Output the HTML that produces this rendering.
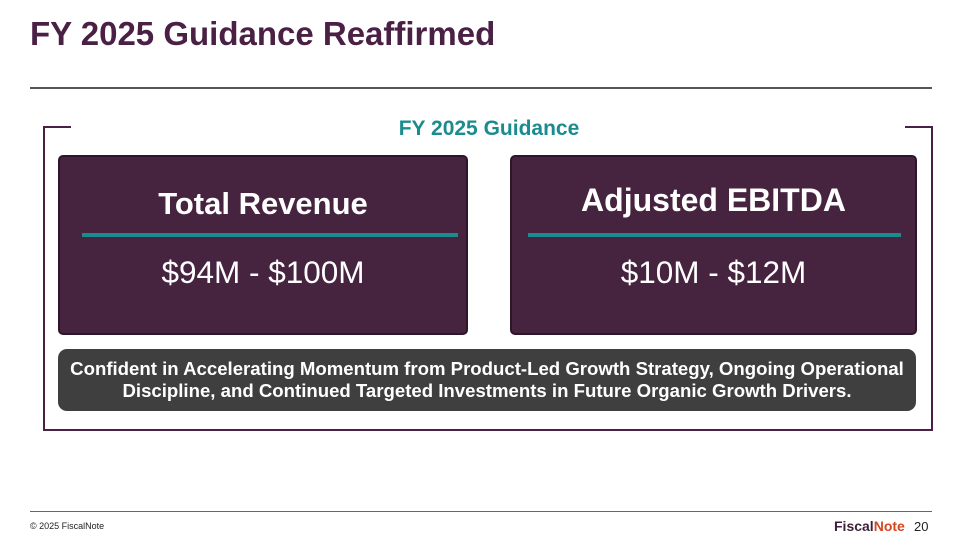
<!DOCTYPE html>
<html><head><style>
body{margin:0;width:960px;height:540px;background:#fff;position:relative;overflow:hidden;font-family:"Liberation Sans",Arial,sans-serif}
.a{position:absolute}
.box{position:absolute;background:#46233f;border:2px solid #2e1529;border-radius:5px;box-sizing:border-box;color:#fff;text-align:center}
</style></head><body>
<div class="a" style="left:30px;top:14px;font-size:33px;line-height:40px;font-weight:bold;color:#4a2145">FY 2025 Guidance Reaffirmed</div>
<div class="a" style="left:30px;top:87px;width:902px;height:2px;background:#555"></div>
<div class="a" style="left:43px;top:126px;width:2px;height:305px;background:#4a2145"></div>
<div class="a" style="left:43px;top:126px;width:28px;height:2px;background:#4a2145"></div>
<div class="a" style="left:931px;top:126px;width:2px;height:305px;background:#4a2145"></div>
<div class="a" style="left:905px;top:126px;width:28px;height:2px;background:#4a2145"></div>
<div class="a" style="left:43px;top:429px;width:890px;height:2px;background:#4a2145"></div>
<div class="a" style="left:289px;top:116px;width:400px;text-align:center;font-size:21px;line-height:26px;font-weight:bold;color:#1a8c8f">FY 2025 Guidance</div>
<div class="box" style="left:58px;top:155px;width:410px;height:180px">
<div class="a" style="left:0;top:29px;width:100%;font-size:31px;line-height:36px;font-weight:bold">Total Revenue</div>
<div class="a" style="left:22px;top:76px;width:376px;height:4px;background:#1a8c8f"></div>
<div class="a" style="left:0;top:97px;width:100%;font-size:31.5px;line-height:36px">$94M - $100M</div>
</div>
<div class="box" style="left:510px;top:155px;width:407px;height:180px">
<div class="a" style="left:0;top:25px;width:100%;font-size:32px;line-height:36px;font-weight:bold">Adjusted EBITDA</div>
<div class="a" style="left:16px;top:76px;width:373px;height:4px;background:#1a8c8f"></div>
<div class="a" style="left:0;top:97px;width:100%;font-size:31.5px;line-height:36px">$10M - $12M</div>
</div>
<div class="a" style="left:58px;top:349px;width:858px;height:62px;background:#3f3f3f;border-radius:9px;color:#fff;font-weight:bold;font-size:18.6px;line-height:22px;text-align:center;padding-top:9px;box-sizing:border-box;white-space:nowrap">Confident in Accelerating Momentum from Product-Led Growth Strategy, Ongoing Operational<br>Discipline, and Continued Targeted Investments in Future Organic Growth Drivers.</div>
<div class="a" style="left:30px;top:511px;width:902px;height:1px;background:#666"></div>
<div class="a" style="left:30px;top:521px;font-size:9px;color:#222">© 2025 FiscalNote</div>
<div class="a" style="left:834px;top:518px;font-size:14px;font-weight:bold;color:#3d1f3a">Fiscal<span style="color:#d4471f">Note</span></div>
<div class="a" style="left:914px;top:519px;font-size:13px;color:#222">20</div>
</body></html>
